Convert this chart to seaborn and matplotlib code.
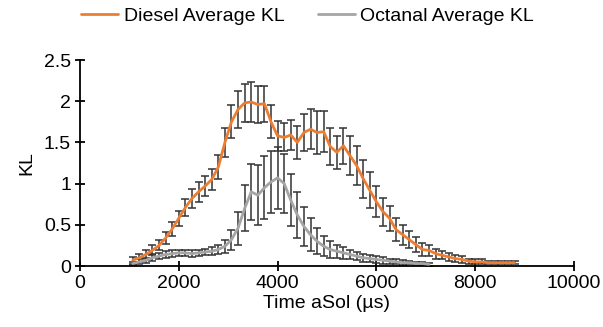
import numpy as np
import pandas as pd
import matplotlib
matplotlib.use("Agg")
import matplotlib.pyplot as plt
import seaborn as sns

# frame interval ~133 us, both series start at ~1067 us
t_start = 1067
t_step = 133.33

diesel_kl = [0.07, 0.10, 0.14, 0.19, 0.25, 0.34, 0.45, 0.58, 0.71, 0.82,
             0.90, 0.97, 1.05, 1.20, 1.50, 1.75, 1.90, 1.98, 1.99, 1.96,
             1.97, 1.75, 1.58, 1.56, 1.59, 1.50, 1.62, 1.66, 1.62, 1.63,
             1.45, 1.38, 1.46, 1.34, 1.22, 1.06, 0.92, 0.78, 0.66, 0.58,
             0.44, 0.38, 0.32, 0.26, 0.20, 0.19, 0.15, 0.13, 0.11, 0.09,
             0.08, 0.06, 0.05, 0.05, 0.04, 0.04, 0.04, 0.04, 0.04]
diesel_err = [0.04, 0.05, 0.05, 0.06, 0.06, 0.07, 0.08, 0.09, 0.10, 0.11,
              0.12, 0.12, 0.13, 0.15, 0.18, 0.20, 0.22, 0.23, 0.24, 0.23,
              0.22, 0.20, 0.18, 0.17, 0.18, 0.20, 0.22, 0.24, 0.26, 0.25,
              0.22, 0.20, 0.22, 0.24, 0.24, 0.23, 0.22, 0.19, 0.17, 0.15,
              0.14, 0.12, 0.10, 0.09, 0.08, 0.07, 0.06, 0.05, 0.05, 0.04,
              0.04, 0.03, 0.03, 0.03, 0.02, 0.02, 0.02, 0.02, 0.02]

octanal_kl = [0.03, 0.05, 0.07, 0.10, 0.12, 0.14, 0.15, 0.16, 0.16, 0.15,
              0.16, 0.17, 0.18, 0.20, 0.24, 0.32, 0.46, 0.70, 0.90, 0.86,
              0.95, 1.02, 1.07, 1.00, 0.80, 0.62, 0.48, 0.38, 0.30, 0.24,
              0.20, 0.18, 0.16, 0.14, 0.12, 0.10, 0.09, 0.08, 0.07, 0.06,
              0.05, 0.04, 0.04, 0.03, 0.03, 0.02]
octanal_err = [0.02, 0.03, 0.03, 0.04, 0.04, 0.04, 0.04, 0.04, 0.04, 0.04,
               0.04, 0.04, 0.05, 0.06, 0.08, 0.12, 0.20, 0.28, 0.34, 0.36,
               0.38, 0.38, 0.38, 0.36, 0.32, 0.28, 0.24, 0.20, 0.16, 0.12,
               0.10, 0.08, 0.07, 0.06, 0.05, 0.05, 0.04, 0.04, 0.04, 0.03,
               0.03, 0.03, 0.02, 0.02, 0.02, 0.02]

x_ticks = [0, 2000, 4000, 6000, 8000, 10000]
y_ticks = [0, 0.5, 1, 1.5, 2, 2.5]
y_ticklabels = ["0", "0.5", "1", "1.5", "2", "2.5"]

t_diesel = np.round(t_start + t_step * np.arange(len(diesel_kl)))
t_octanal = np.round(t_start + t_step * np.arange(len(octanal_kl)))

df = pd.concat([
    pd.DataFrame({"time": t_diesel, "kl": diesel_kl, "err": diesel_err,
                  "fuel": "Diesel Average KL"}),
    pd.DataFrame({"time": t_octanal, "kl": octanal_kl, "err": octanal_err,
                  "fuel": "Octanal Average KL"}),
], ignore_index=True)

sns.set_style("white")
plt.rcParams["font.family"] = ["Liberation Sans", "DejaVu Sans"]
plt.rcParams["font.size"] = 14
for k in ["text.color", "axes.labelcolor", "xtick.color", "ytick.color"]:
    plt.rcParams[k] = "black"

fig = plt.figure(figsize=(6.03, 3.27), dpi=100)
ax = fig.add_axes([0.1327, 0.1865, 0.819, 0.630])

palette = {"Diesel Average KL": "#ED7D31", "Octanal Average KL": "#A5A5A5"}

for fuel, sub in df.groupby("fuel"):
    ax.errorbar(sub["time"], sub["kl"], yerr=sub["err"], fmt="none",
                ecolor="#333333", elinewidth=1.1, capsize=3, capthick=1.1,
                zorder=2)

sns.lineplot(data=df, x="time", y="kl", hue="fuel", palette=palette,
             linewidth=2.0, ax=ax, zorder=3, legend=True)

ax.set_xlim(0, 10000)
ax.set_ylim(0, 2.5)
ax.set_xticks(x_ticks)
ax.set_yticks(y_ticks)
ax.set_yticklabels(y_ticklabels)
ax.set_xlabel("Time aSol (µs)", fontsize=14, labelpad=2)
ax.set_ylabel("KL", fontsize=14, labelpad=6)
ax.tick_params(direction="inout", length=7, width=1.3, colors="black",
               labelsize=14, pad=3)
ax.tick_params(axis="x", bottom=True)
ax.tick_params(axis="y", left=True)
sns.despine(ax=ax)
for s in ["left", "bottom"]:
    ax.spines[s].set_color("black")
    ax.spines[s].set_linewidth(1.3)

handles, labels = ax.get_legend_handles_labels()
ax.legend(handles, labels, loc="center", bbox_to_anchor=(0.51, 0.95),
          bbox_transform=fig.transFigure, ncol=2, frameon=False,
          fontsize=14, handlelength=1.9, handletextpad=0.3,
          columnspacing=1.7)

fig.savefig("out.png", dpi=100)
